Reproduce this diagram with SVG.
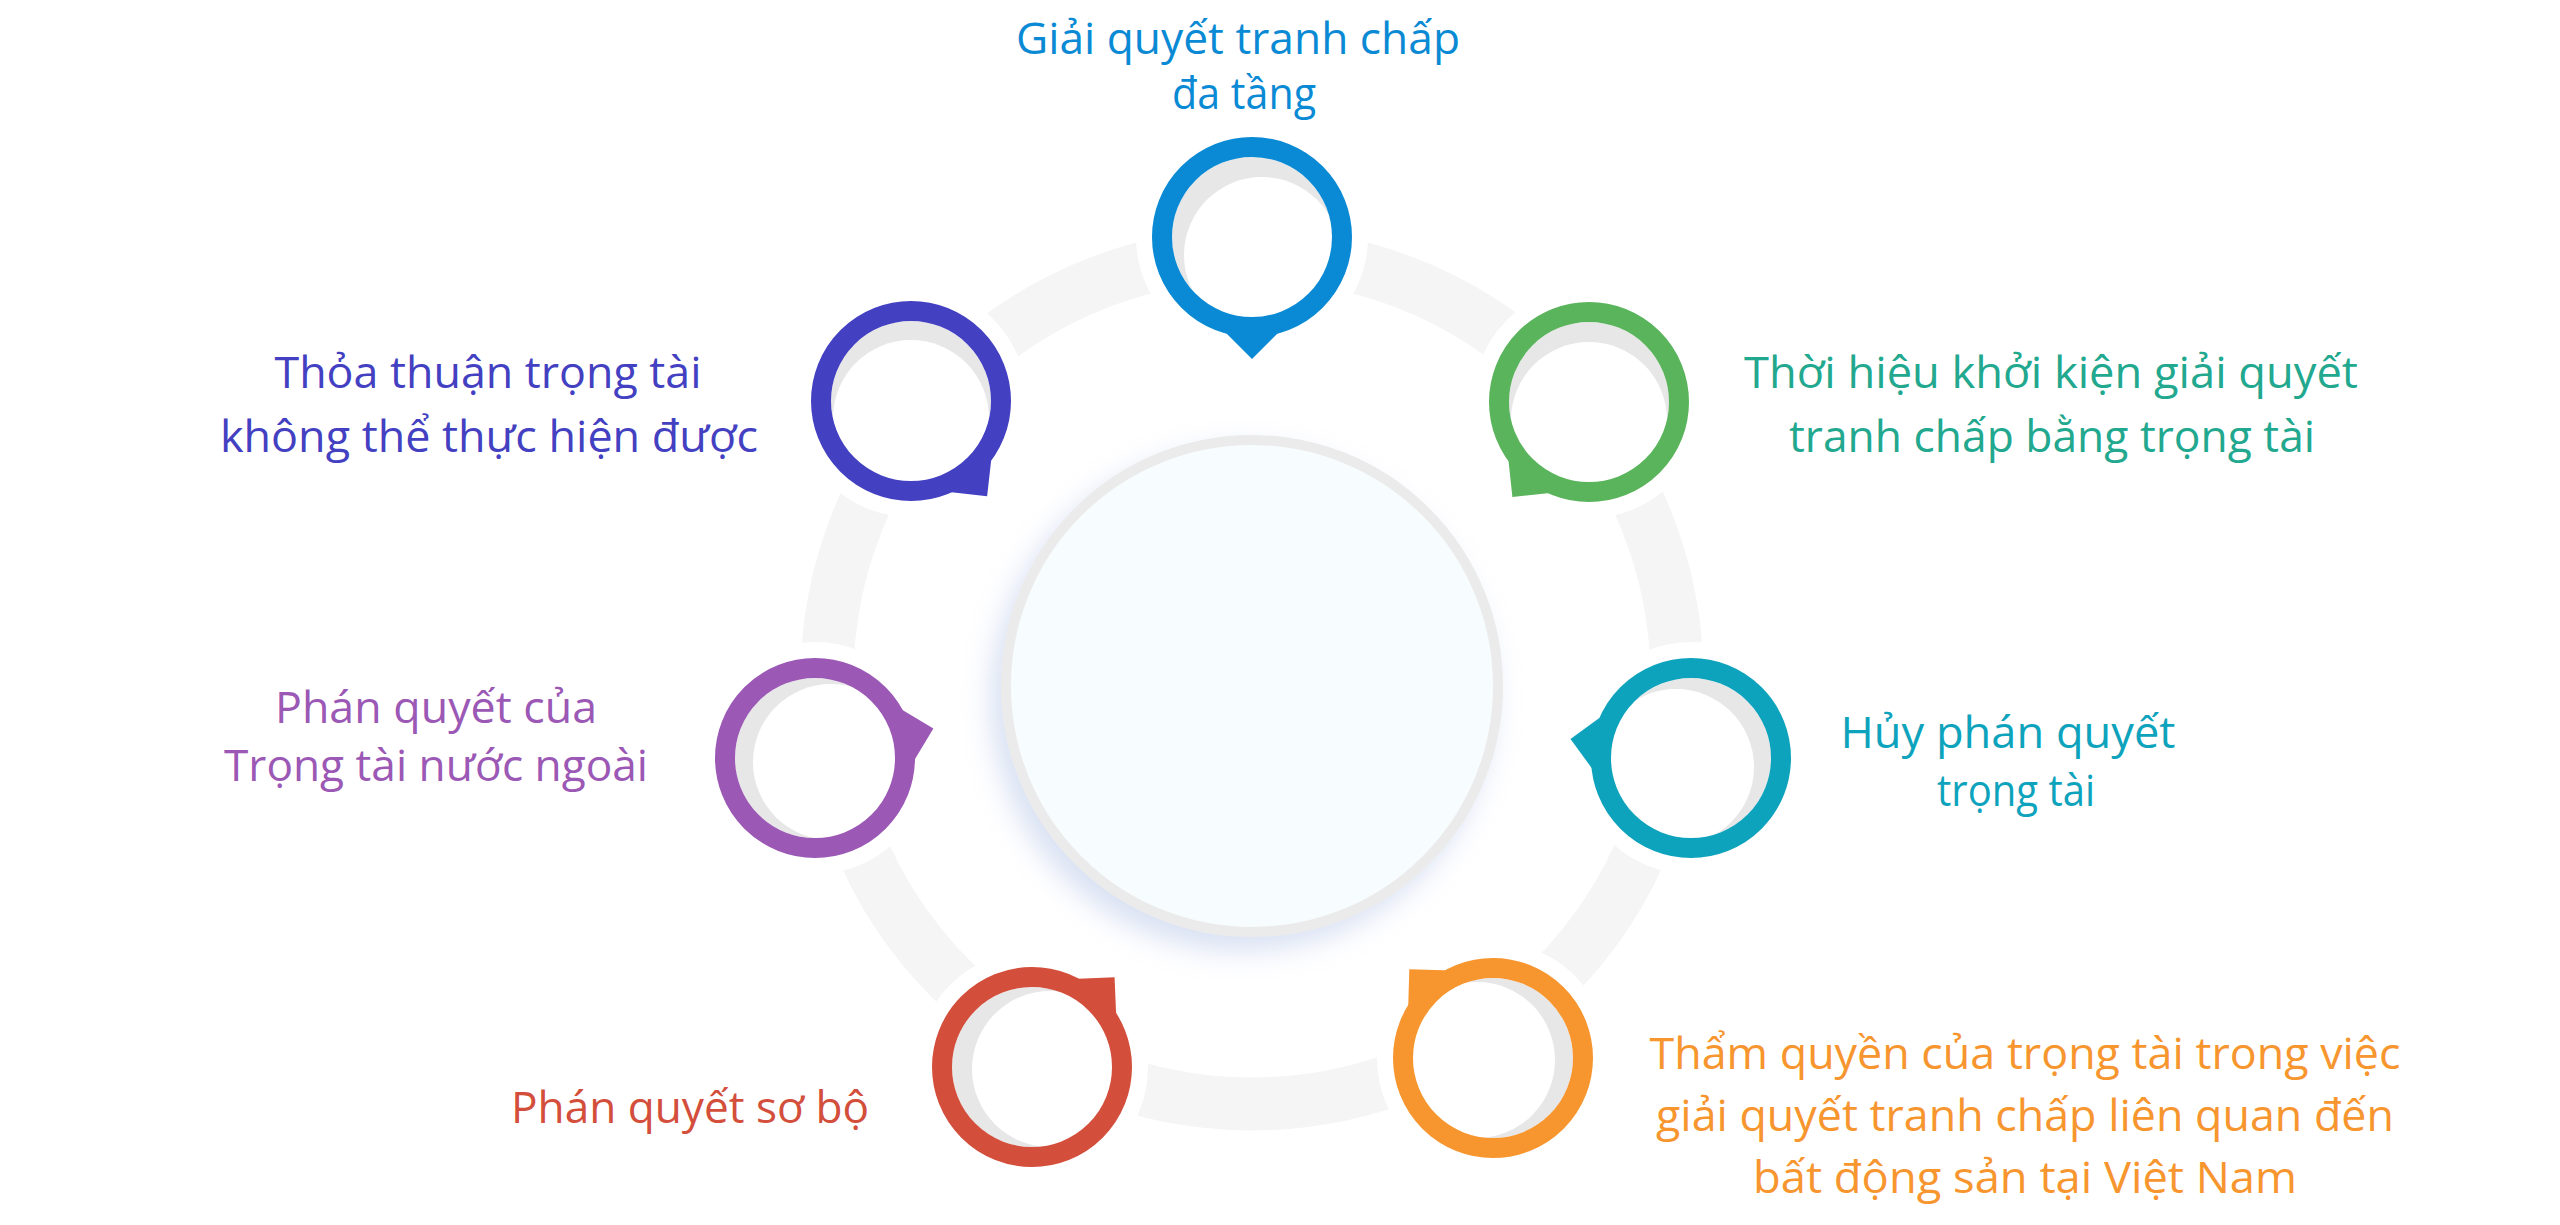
<svg xmlns="http://www.w3.org/2000/svg" xmlns:xlink="http://www.w3.org/1999/xlink" width="2560" height="1225" viewBox="0 0 2560 1225">
<style>
.band{fill:none;stroke:#f5f5f5;stroke-width:53}
.halo{fill:#ffffff}
.well{fill:#e7e7e8}
.inner{fill:#ffffff}
.ring{fill:none;stroke-width:20}
.lbl{font-family:"Open Sans","Noto Sans","Liberation Sans",sans-serif;font-size:44px;text-anchor:middle}
</style>
<defs>
<path id="ptr" d="M-30,92 L0,122 L30,92 L0,85 Z"/>
<filter id="sh" x="-20%" y="-20%" width="140%" height="140%">
<feDropShadow dx="-10" dy="14" stdDeviation="14" flood-color="#9fb4e0" flood-opacity="0.4"/>
</filter>
</defs>
<rect width="2560" height="1225" fill="#ffffff"/>
<g id="connectors">
<circle class="band" cx="1252" cy="679" r="425"/>
</g>
<g id="center">
<circle cx="1252" cy="686" r="246" fill="#f7fdfe" stroke="#ebebeb" stroke-width="10" filter="url(#sh)"/>
</g>
<g id="n1">
<circle class="halo" cx="1252" cy="237" r="116"/>
<circle class="well" cx="1252" cy="237" r="80"/>
<circle class="inner" cx="1262" cy="255" r="78"/>
<circle class="ring" cx="1252" cy="237" r="90" stroke="#0a8ad4"/>
<use xlink:href="#ptr" fill="#0a8ad4" transform="translate(1252,237)"/>
<text class="lbl" fill="#0a8ad4"><tspan x="1238" y="54" textLength="444" lengthAdjust="spacingAndGlyphs">Giải quyết tranh chấp</tspan><tspan x="1244" y="109" textLength="144" lengthAdjust="spacingAndGlyphs">đa tầng</tspan></text>
</g>
<g id="n2">
<circle class="halo" cx="911" cy="401" r="116"/>
<circle class="well" cx="911" cy="401" r="80"/>
<circle class="inner" cx="911" cy="418" r="78"/>
<circle class="ring" cx="911" cy="401" r="90" stroke="#4340c1"/>
<use xlink:href="#ptr" fill="#4340c1" transform="translate(911,401) rotate(-38.6)"/>
<text class="lbl" fill="#4340c1"><tspan x="488" y="388" textLength="427" lengthAdjust="spacingAndGlyphs">Thỏa thuận trọng tài</tspan><tspan x="489" y="452" textLength="538" lengthAdjust="spacingAndGlyphs">không thể thực hiện được</tspan></text>
</g>
<g id="n3">
<circle class="halo" cx="1589" cy="402" r="116"/>
<circle class="well" cx="1589" cy="402" r="80"/>
<circle class="inner" cx="1589" cy="420" r="78"/>
<circle class="ring" cx="1589" cy="402" r="90" stroke="#5ab45c"/>
<use xlink:href="#ptr" fill="#5ab45c" transform="translate(1589,402) rotate(38.9)"/>
<text class="lbl" fill="#22a88e"><tspan x="2051" y="388" textLength="614" lengthAdjust="spacingAndGlyphs">Thời hiệu khởi kiện giải quyết</tspan><tspan x="2052" y="452" textLength="526" lengthAdjust="spacingAndGlyphs">tranh chấp bằng trọng tài</tspan></text>
</g>
<g id="n4">
<circle class="halo" cx="815" cy="758" r="116"/>
<circle class="well" cx="815" cy="758" r="80"/>
<circle class="inner" cx="831" cy="762" r="78"/>
<circle class="ring" cx="815" cy="758" r="90" stroke="#9b58b5"/>
<use xlink:href="#ptr" fill="#9b58b5" transform="translate(815,758) rotate(-104)"/>
<text class="lbl" fill="#9b58b5"><tspan x="436" y="723" textLength="322" lengthAdjust="spacingAndGlyphs">Phán quyết của</tspan><tspan x="436" y="781" textLength="424" lengthAdjust="spacingAndGlyphs">Trọng tài nước ngoài</tspan></text>
</g>
<g id="n5">
<circle class="halo" cx="1691" cy="758" r="116"/>
<circle class="well" cx="1691" cy="758" r="80"/>
<circle class="inner" cx="1676" cy="767" r="78"/>
<circle class="ring" cx="1691" cy="758" r="90" stroke="#0ea3bc"/>
<use xlink:href="#ptr" fill="#0ea3bc" transform="translate(1691,758) rotate(99)"/>
<text class="lbl" fill="#0ea3bc"><tspan x="2008" y="748" textLength="335" lengthAdjust="spacingAndGlyphs">Hủy phán quyết</tspan><tspan x="2016" y="806" textLength="158" lengthAdjust="spacingAndGlyphs">trọng tài</tspan></text>
</g>
<g id="n6">
<circle class="halo" cx="1032" cy="1067" r="116"/>
<circle class="well" cx="1032" cy="1067" r="80"/>
<circle class="inner" cx="1050" cy="1069" r="78"/>
<circle class="ring" cx="1032" cy="1067" r="90" stroke="#d34e3b"/>
<use xlink:href="#ptr" fill="#d34e3b" transform="translate(1032,1067) rotate(-137.4)"/>
<text class="lbl" fill="#d34e3b"><tspan x="690" y="1123" textLength="358" lengthAdjust="spacingAndGlyphs">Phán quyết sơ bộ</tspan></text>
</g>
<g id="n7">
<circle class="halo" cx="1493" cy="1058" r="116"/>
<circle class="well" cx="1493" cy="1058" r="80"/>
<circle class="inner" cx="1477" cy="1060" r="78"/>
<circle class="ring" cx="1493" cy="1058" r="90" stroke="#f7952f"/>
<use xlink:href="#ptr" fill="#f7952f" transform="translate(1493,1058) rotate(136.7)"/>
<text class="lbl" fill="#f7952f"><tspan x="2025" y="1069" textLength="751" lengthAdjust="spacingAndGlyphs">Thẩm quyền của trọng tài trong việc</tspan><tspan x="2025" y="1131" textLength="738" lengthAdjust="spacingAndGlyphs">giải quyết tranh chấp liên quan đến</tspan><tspan x="2025" y="1193" textLength="544" lengthAdjust="spacingAndGlyphs">bất động sản tại Việt Nam</tspan></text>
</g>
</svg>
